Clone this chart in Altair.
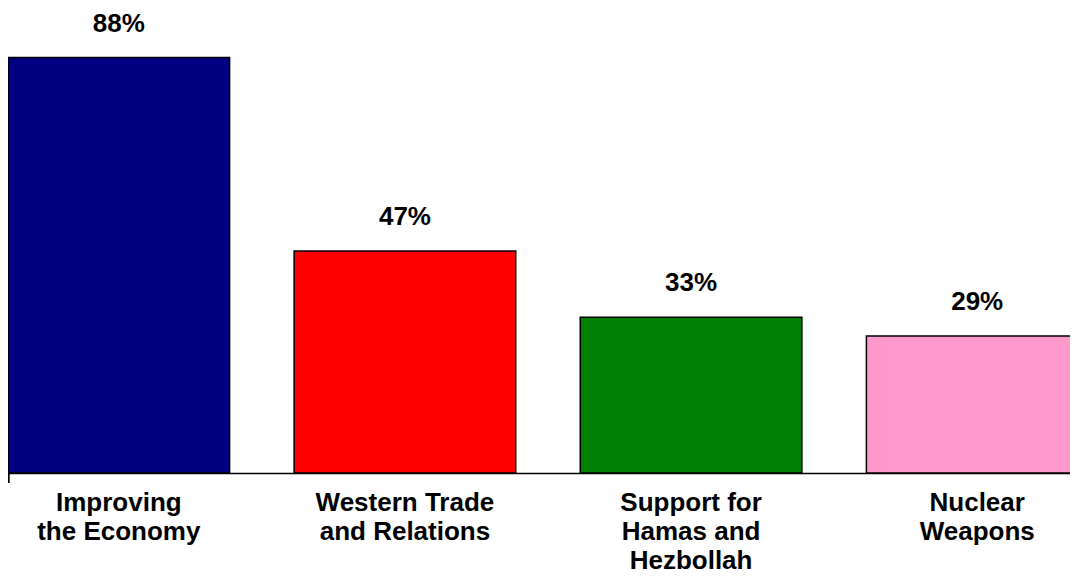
import altair as alt
import pandas as pd

categories = ["Improving|the Economy", "Western Trade|and Relations",
              "Support for|Hamas and|Hezbollah", "Nuclear|Weapons"]
values = [88, 47, 33, 29]
labels = ["88%", "47%", "33%", "29%"]
colors = ["#000080", "#FF0000", "#008000", "#FF99CC"]

df = pd.DataFrame({"cat": categories, "val": values, "lab": labels})

W, H = 1062, 465
FONT = "Liberation Sans"
FS = 26

xscale = alt.Scale(domain=categories, range=[0, 1080], paddingInner=0.2255, paddingOuter=0)

x = alt.X("cat:N", sort=categories, scale=xscale,
          axis=alt.Axis(title=None, labelAngle=0, domainColor="black", domainWidth=1.5,
                        ticks=False, tickSize=0, labelPadding=16,
                        labelExpr="split(datum.label, '|')",
                        labelFont=FONT, labelFontSize=FS, labelFontWeight="bold",
                        labelColor="black", labelLineHeight=29, labelLimit=300))
y = alt.Y("val:Q", scale=alt.Scale(domain=[0, 98.5], nice=False), axis=None)

bars = alt.Chart(df).mark_bar(stroke="black", strokeWidth=1.5).encode(
    x=x, y=y,
    color=alt.Color("cat:N", sort=categories,
                    scale=alt.Scale(domain=categories, range=colors), legend=None))

text = alt.Chart(df).mark_text(font=FONT, fontSize=FS, fontWeight="bold", color="black",
                               baseline="alphabetic", dy=-26).encode(
    x=alt.X("cat:N", sort=categories, scale=xscale), y="val:Q", text="lab:N")

tick = alt.Chart(df).mark_rule(color="black", strokeWidth=1.5).encode(
    x=alt.value(0.5), y=alt.value(H), y2=alt.value(H + 10))

chart = alt.layer(bars, text, tick).properties(
    width=W, height=H,
    background="white",
    autosize=alt.AutoSizeParams(type="none"),
    padding={"left": 0, "top": 0, "right": 0, "bottom": 96},
).configure_view(stroke=None)

chart.save("out.html", embed_options={"renderer": "svg", "actions": False})
